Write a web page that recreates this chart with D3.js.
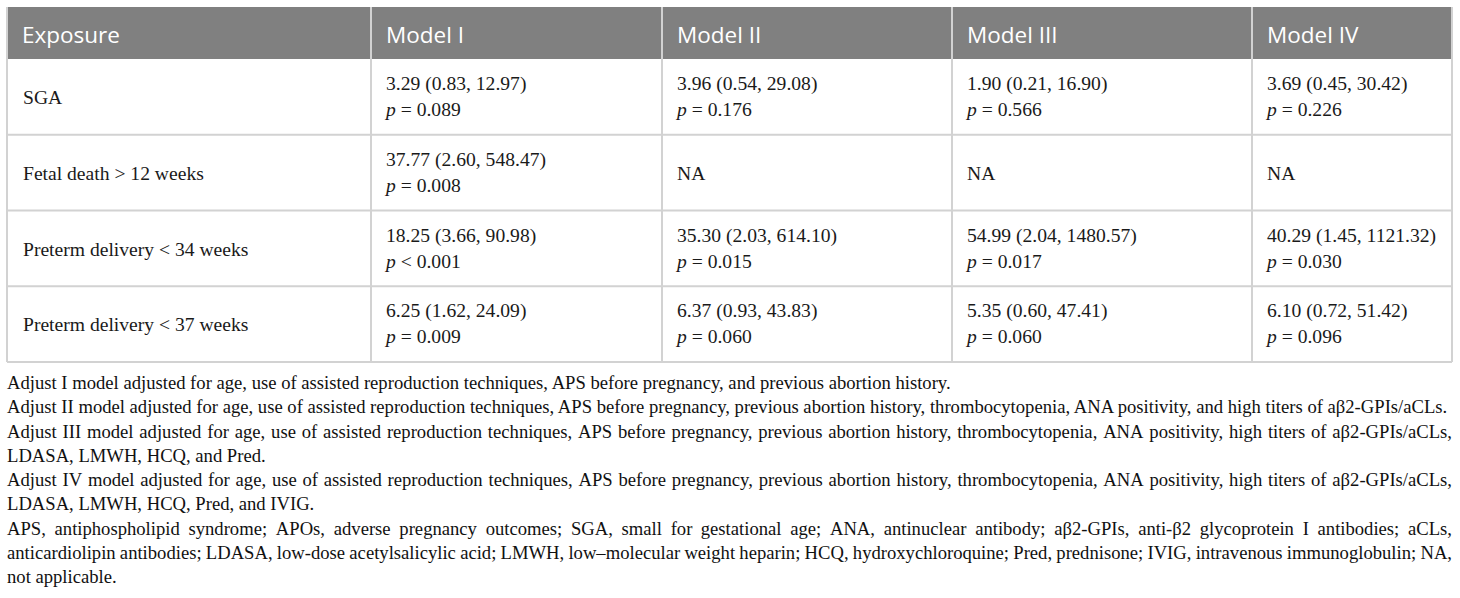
<!DOCTYPE html>
<html lang="en">

<head>
    <meta charset="UTF-8">
    <title>Model table</title>
    <style>
        body {
            margin: 0;
            background: #fff;
        }

        svg {
            display: block;
        }
    </style>
</head>

<body>
    <div id="table-box"></div>

    <script src="https://cdn.jsdelivr.net/npm/d3@7/dist/d3.min.js"></script>
    <script>
        // 表头
        const columns = ["Exposure", "Model I", "Model II", "Model III", "Model IV"];
        // 暴露因素
        const exposures = ["SGA", "Fetal death > 12 weeks", "Preterm delivery < 34 weeks", "Preterm delivery < 37 weeks"];

        // 各模型 OR 值、95%CI 下限、上限（null = NA）
        const orModelI = [3.29, 37.77, 18.25, 6.25];
        const loModelI = [0.83, 2.60, 3.66, 1.62];
        const hiModelI = [12.97, 548.47, 90.98, 24.09];
        const pModelI = ["= 0.089", "= 0.008", "< 0.001", "= 0.009"];

        const orModelII = [3.96, null, 35.30, 6.37];
        const loModelII = [0.54, null, 2.03, 0.93];
        const hiModelII = [29.08, null, 614.10, 43.83];
        const pModelII = ["= 0.176", null, "= 0.015", "= 0.060"];

        const orModelIII = [1.90, null, 54.99, 5.35];
        const loModelIII = [0.21, null, 2.04, 0.60];
        const hiModelIII = [16.90, null, 1480.57, 47.41];
        const pModelIII = ["= 0.566", null, "= 0.017", "= 0.060"];

        const orModelIV = [3.69, null, 40.29, 6.10];
        const loModelIV = [0.45, null, 1.45, 0.72];
        const hiModelIV = [30.42, null, 1121.32, 51.42];
        const pModelIV = ["= 0.226", null, "= 0.030", "= 0.096"];

        // 表注（每段按原图分行）
        const notes = [
            ["Adjust I model adjusted for age, use of assisted reproduction techniques, APS before pregnancy, and previous abortion history."],
            ["Adjust II model adjusted for age, use of assisted reproduction techniques, APS before pregnancy, previous abortion history, thrombocytopenia, ANA positivity, and high titers of aβ2-GPIs/aCLs."],
            ["Adjust III model adjusted for age, use of assisted reproduction techniques, APS before pregnancy, previous abortion history, thrombocytopenia, ANA positivity, high titers of aβ2-GPIs/aCLs,",
                "LDASA, LMWH, HCQ, and Pred."],
            ["Adjust IV model adjusted for age, use of assisted reproduction techniques, APS before pregnancy, previous abortion history, thrombocytopenia, ANA positivity, high titers of aβ2-GPIs/aCLs,",
                "LDASA, LMWH, HCQ, Pred, and IVIG."],
            ["APS, antiphospholipid syndrome; APOs, adverse pregnancy outcomes; SGA, small for gestational age; ANA, antinuclear antibody; aβ2-GPIs, anti-β2 glycoprotein I antibodies; aCLs,",
                "anticardiolipin antibodies; LDASA, low-dose acetylsalicylic acid; LMWH, low–molecular weight heparin; HCQ, hydroxychloroquine; Pred, prednisone; IVIG, intravenous immunoglobulin; NA,",
                "not applicable."]
        ];

        const models = [
            { or: orModelI, lo: loModelI, hi: hiModelI, p: pModelI },
            { or: orModelII, lo: loModelII, hi: hiModelII, p: pModelII },
            { or: orModelIII, lo: loModelIII, hi: hiModelIII, p: pModelIII },
            { or: orModelIV, lo: loModelIV, hi: hiModelIV, p: pModelIV }
        ];

        const width = 1460;
        const height = 598;

        const svg = d3.select("#table-box")
            .append("svg")
            .attr("width", width)
            .attr("height", height);

        // 列边界
        const colWidths = [364, 291, 290, 300, 200];
        const left = 7;
        const colEdges = colWidths.reduce((acc, w) => { acc.push(acc[acc.length - 1] + w); return acc; }, [left]);
        const right = colEdges[colEdges.length - 1];
        const xCol = d3.scaleOrdinal().domain(d3.range(columns.length)).range(colEdges.slice(0, -1));

        // 行比例尺
        const headTop = 7, headBottom = 59, tableBottom = 362;
        const yRow = d3.scaleBand().domain(exposures).range([headBottom, tableBottom]);

        const fmt = d3.format(".2f");
        const serif = "'Liberation Serif', 'Times New Roman', serif";
        const sans = "'Open Sans', 'Noto Sans', sans-serif";
        const pad = 16;
        const bodySize = 19.6;
        const gridColor = "#d2d2d2";

        // 表头背景
        svg.append("rect")
            .attr("x", left)
            .attr("y", headTop)
            .attr("width", right - left)
            .attr("height", headBottom - headTop)
            .attr("fill", "#808080");

        // 表头文字
        svg.append("g")
            .selectAll("text")
            .data(columns)
            .join("text")
            .attr("x", (d, i) => xCol(i) + pad - 1)
            .attr("y", 43)
            .attr("font-family", sans)
            .attr("font-size", 22.5)
            .attr("fill", "#fff")
            .text(d => d);

        // 网格线
        const grid = svg.append("g")
            .attr("stroke", gridColor)
            .attr("stroke-width", 2)
            .attr("fill", "none");

        grid.selectAll("line.h")
            .data(exposures.slice(1))
            .join("line")
            .attr("class", "h")
            .attr("x1", left)
            .attr("x2", right)
            .attr("y1", d => yRow(d))
            .attr("y2", d => yRow(d));

        grid.append("line")
            .attr("x1", left).attr("x2", right)
            .attr("y1", tableBottom).attr("y2", tableBottom);

        grid.selectAll("line.v")
            .data(colEdges)
            .join("line")
            .attr("class", "v")
            .attr("x1", d => d)
            .attr("x2", d => d)
            .attr("y1", headTop)
            .attr("y2", tableBottom);

        // 第一列
        svg.append("g")
            .selectAll("text")
            .data(exposures)
            .join("text")
            .attr("x", xCol(0) + pad)
            .attr("y", d => yRow(d) + 45)
            .attr("font-family", serif)
            .attr("font-size", bodySize)
            .attr("fill", "#1a1a1a")
            .text(d => d);

        // 模型单元格
        const cells = [];
        models.forEach((m, j) => {
            exposures.forEach((e, i) => {
                cells.push({ col: j + 1, row: e, or: m.or[i], lo: m.lo[i], hi: m.hi[i], p: m.p[i] });
            });
        });

        const cellG = svg.append("g")
            .selectAll("g")
            .data(cells)
            .join("g")
            .attr("transform", d => `translate(${xCol(d.col) + pad - 1}, ${yRow(d.row)})`)
            .attr("font-family", serif)
            .attr("font-size", bodySize)
            .attr("fill", "#1a1a1a");

        cellG.filter(d => d.or === null)
            .append("text")
            .attr("y", 45)
            .text("NA");

        const filled = cellG.filter(d => d.or !== null);
        filled.append("text")
            .attr("y", 31)
            .text(d => `${fmt(d.or)} (${fmt(d.lo)}, ${fmt(d.hi)})`);

        const pText = filled.append("text")
            .attr("y", 57);
        pText.append("tspan")
            .attr("font-style", "italic")
            .text("p");
        pText.append("tspan")
            .text(d => " " + d.p);

        // 表注
        const noteG = svg.append("g")
            .attr("font-family", serif)
            .attr("fill", "#111");

        const noteLines = [];
        notes.forEach(para => {
            para.forEach((line, k) => noteLines.push({ text: line, justify: k < para.length - 1 }));
        });

        // 第二段单行几乎占满整行，用它确定字号
        const probe = noteG.append("text").attr("font-size", 16).text(notes[1][0]);
        const noteSize = 16 * (right - left - 4) / probe.node().getComputedTextLength();
        probe.remove();
        noteG.attr("font-size", noteSize);

        const yNote = d3.scaleLinear().domain([0, noteLines.length - 1]).range([389, 583]);

        noteLines.forEach((ln, i) => {
            const t = noteG.append("text").attr("y", yNote(i));
            if (!ln.justify) {
                t.attr("x", left).text(ln.text);
                return;
            }
            // 两端对齐：逐词定位
            const words = ln.text.split(" ");
            const spans = t.selectAll("tspan")
                .data(words)
                .join("tspan")
                .text(d => d);
            const widths = spans.nodes().map(n => n.getComputedTextLength());
            const gap = (right - left - d3.sum(widths)) / (words.length - 1);
            let x = left;
            spans.attr("x", (d, k) => {
                const cur = x;
                x += widths[k] + gap;
                return cur;
            });
        });
    </script>
</body>

</html>
